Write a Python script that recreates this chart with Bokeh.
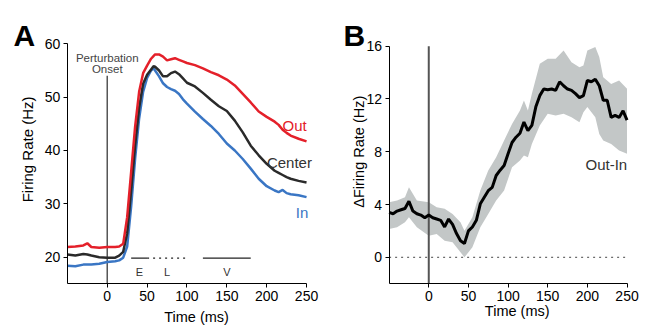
import math
from bokeh.plotting import figure
from bokeh.models import Range1d, FixedTicker, Label
from bokeh.layouts import row
from bokeh.embed import file_html
from bokeh.resources import INLINE

FONT = "Liberation Sans"

# ---------------- Panel A data ----------------
time_a = [-50, -40, -30, -25, -20, -10, 0, 10, 15, 20, 25, 30, 35, 40, 45, 50, 55, 58, 60, 65,
          70, 75, 80, 85, 90, 95, 100, 110, 120, 130, 140, 150, 160, 170, 180, 190, 200, 210,
          215, 220, 225, 230, 240, 250]
rate_out = [21.9, 22.0, 22.2, 22.6, 21.9, 21.75, 21.9, 21.9, 22.0, 22.5, 27.5, 36.0, 44.5, 51.0,
            54.5, 55.9, 57.2, 57.7, 58.0, 58.0, 57.6, 56.9, 57.1, 57.3, 57.0, 56.7, 56.4, 56.0,
            55.4, 54.7, 54.1, 53.3, 52.2, 50.6, 49.0, 47.3, 46.3, 45.4, 44.8, 43.9, 43.3, 42.8,
            42.2, 41.7]
rate_center = [20.5, 20.3, 20.6, 20.5, 20.3, 20.0, 19.9, 19.9, 20.3, 21.0, 24.5, 32.5, 41.0,
               48.0, 52.5, 54.2, 55.2, 55.8, 55.7, 55.0, 53.9, 53.9, 54.5, 54.8, 54.3, 53.5,
               52.7, 52.0, 50.8, 49.5, 48.3, 47.4, 45.6, 43.4, 40.9, 39.1, 37.5, 36.2, 35.8,
               35.4, 35.0, 34.7, 34.3, 34.0]
rate_in = [18.4, 18.3, 18.6, 18.6, 18.6, 18.75, 19.1, 19.25, 19.4, 19.9, 22.0, 29.5, 38.5, 46.0,
           51.0, 53.6, 55.0, 55.4, 55.0, 53.9, 52.6, 51.9, 51.5, 51.2, 50.6, 49.6, 48.8, 47.3,
           45.9, 44.6, 43.1, 41.3, 40.0, 38.4, 36.6, 34.7, 33.3, 32.5, 32.2, 32.6, 32.0, 31.8,
           31.6, 31.25]

onset_t = 0
epoch_start = [30, 50, 120]
epoch_end = [50, 100, 180]
epoch_label_t = [40.5, 75, 150]
epoch_names = ["E", "L", "V"]
epoch_dash = ["solid", "dotted", "solid"]

time_limits = (-50, 250)
rate_limits_a = (15, 60)
xticks = [0, 50, 100, 150, 200, 250]
yticks_a = [20, 30, 40, 50, 60]

# ---------------- Panel B data ----------------
time_b = list(range(-50, 255, 5))
diff_mean = [3.4, 3.3, 3.5, 3.6, 3.7, 4.25, 3.5, 3.3, 3.2, 3.0, 3.2, 3.0, 2.9, 2.8, 2.3, 2.9,
             2.5, 1.8, 1.25, 1.05, 2.0, 2.3, 2.8, 4.05, 4.55, 5.05, 5.3, 6.2, 6.6, 6.95, 7.85,
             8.7, 9.1, 9.4, 10.25, 9.6, 10.0, 11.4, 12.25, 12.75, 12.7, 12.75, 12.65, 13.3, 13.0,
             12.75, 12.65, 12.4, 12.1, 12.25, 13.4, 13.3, 13.5, 13.0, 11.9, 11.9, 10.6, 10.75,
             10.6, 11.1, 10.4]
band_t = [-50, -40, -30, -25, -15, 0, 10, 20, 30, 40, 45, 55, 65, 75, 85, 95, 105, 115, 120,
          125, 130, 140, 150, 160, 170, 180, 190, 195, 200, 210, 215, 220, 230, 240, 250]
band_upper = [4.17, 4.30, 4.55, 5.31, 4.30, 4.17, 3.79, 3.67, 3.29, 2.65, 2.02, 3.03, 5.06, 6.57,
              7.58, 8.85, 10.11, 11.12, 11.88, 11.12, 12.39, 14.66, 15.04, 15.04, 15.67, 14.79,
              14.41, 14.53, 15.67, 15.93, 15.17, 13.65, 13.14, 13.40, 12.77]
band_lower = [2.15, 2.28, 2.65, 3.03, 2.28, 1.64, 1.77, 1.26, 1.14, 0.38, 0.0, 0.76, 2.28, 3.29,
              4.30, 5.06, 6.83, 7.33, 7.71, 7.58, 8.59, 9.98, 10.87, 10.74, 10.87, 10.62, 10.24,
              11.0, 11.38, 10.62, 9.35, 8.85, 8.59, 8.09, 7.85]
rate_limits_b = (-2, 16)
yticks_b = [0, 4, 8, 12, 16]

RED = "#e4202a"
BLACK = "#2a2a2a"
BLUE = "#3a76c4"
GRAY_TXT = "#444444"


def style(p, xt, yt, xlim, ylim):
    p.grid.visible = False
    p.outline_line_color = None
    p.background_fill_color = "white"
    p.border_fill_color = "white"
    for ax in (p.xaxis[0], p.yaxis[0]):
        ax.axis_line_color = "black"
        ax.axis_line_width = 1
        ax.major_tick_line_color = "black"
        ax.major_tick_out = 4
        ax.major_tick_in = 0
        ax.minor_tick_line_color = None
        ax.major_label_text_font = FONT
        ax.major_label_text_font_size = "14px"
        ax.major_label_text_color = "black"
        ax.major_label_standoff = 3
    p.xaxis[0].ticker = FixedTicker(ticks=xt)
    p.yaxis[0].ticker = FixedTicker(ticks=yt)
    p.xaxis[0].bounds = xlim
    p.yaxis[0].bounds = ylim
    p.xaxis[0].fixed_location = ylim[0]
    p.yaxis[0].fixed_location = xlim[0]


def lab(p, x, y, text, size="15px", color="black", align="center", baseline="alphabetic",
        angle=0.0, bold=False):
    p.add_layout(Label(x=x, y=y, text=text, text_font=FONT, text_font_size=size,
                       text_color=color, text_align=align, text_baseline=baseline,
                       angle=angle, text_font_style="bold" if bold else "normal"))


# ---------------- Panel A ----------------
pa = figure(width=327, height=327, output_backend="svg", toolbar_location=None,
            x_range=Range1d(-133.9, 276.3), y_range=Range1d(6.81, 68.12),
            min_border_left=0, min_border_right=0, min_border_top=0, min_border_bottom=0)
style(pa, xticks, yticks_a, time_limits, rate_limits_a)

pa.segment(x0=[onset_t], y0=[rate_limits_a[0]], x1=[onset_t], y1=[54.0],
           line_color="#555555", line_width=1.5)
pa.line(time_a, rate_in, line_color=BLUE, line_width=2.5)
pa.line(time_a, rate_center, line_color=BLACK, line_width=2.5)
pa.line(time_a, rate_out, line_color=RED, line_width=2.5)

for s, e, lt, n, d in zip(epoch_start, epoch_end, epoch_label_t, epoch_names, epoch_dash):
    pa.segment(x0=[s], y0=[19.8], x1=[e], y1=[19.8], line_color="#222222", line_width=1.2,
               line_dash=d)
    lab(pa, lt, 17.17, n, size="11px", color="#333333")

lab(pa, onset_t, 57.43, "Perturbation", size="11.5px", color=GRAY_TXT)
lab(pa, onset_t, 55.2, "Onset", size="11.5px", color=GRAY_TXT)
lab(pa, 235, 44.68, "Out", color=RED)
lab(pa, 228.5, 37.69, "Center", color="#333333")
lab(pa, 244.4, 28.42, "In", color=BLUE)
lab(pa, -100.4, 40.2, "Firing Rate (Hz)", angle=math.pi / 2, baseline="middle")
lab(pa, 112, 8.77, "Time (ms)", size="14.5px", baseline="middle")
lab(pa, -117.6, 61.56, "A", size="30px", align="left", bold=True)

# ---------------- Panel B ----------------
pb = figure(width=328, height=327, output_backend="svg", toolbar_location=None,
            x_range=Range1d(-127.7, 285.9), y_range=Range1d(-5.32, 19.46),
            min_border_left=0, min_border_right=0, min_border_top=0, min_border_bottom=0)
style(pb, xticks, yticks_b, time_limits, rate_limits_b)

pb.varea(x=band_t, y1=band_lower, y2=band_upper, fill_color="#c3c7c7")
pb.segment(x0=[time_limits[0]], y0=[0], x1=[time_limits[1]], y1=[0], line_color="#444444",
           line_width=1, line_dash="dotted")
pb.segment(x0=[onset_t], y0=[rate_limits_b[0]], x1=[onset_t], y1=[rate_limits_b[1]],
           line_color="#555555", line_width=2)
pb.line(time_b, diff_mean, line_color="black", line_width=3)

lab(pb, 223.9, 7.03, "Out-In", color="#333333")
lab(pb, -88.3, 8.0, "\u0394Firing Rate (Hz)", size="14.5px", angle=math.pi / 2,
    baseline="middle")
lab(pb, 111.5, -4.04, "Time (ms)", size="14.5px", baseline="middle")
lab(pb, -107.6, 16.81, "B", size="30px", align="left", bold=True)

layout = row(pa, pb)
open("out.html", "w").write(file_html(layout, INLINE))
